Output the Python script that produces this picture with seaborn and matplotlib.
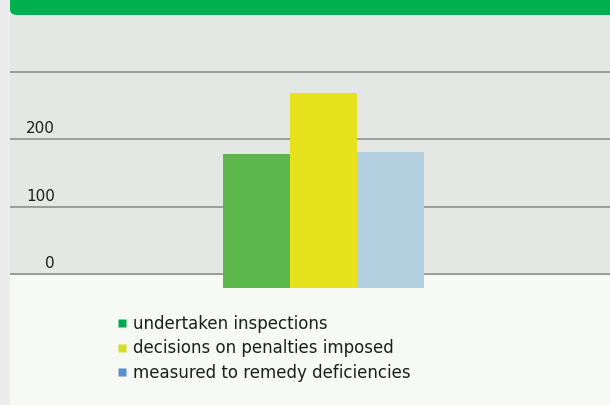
import matplotlib
matplotlib.use("Agg")
import matplotlib.pyplot as plt
import seaborn as sns
import pandas as pd
from matplotlib.lines import Line2D
from matplotlib.patches import FancyBboxPatch, Rectangle

# data
categories = ["undertaken inspections", "decisions on penalties imposed", "measured to remedy deficiencies"]
values = [178, 268, 181]
bar_colors = ["#5cb84a", "#e6e21e", "#b3d0e0"]
legend_colors = ["#00a84f", "#d6df1e", "#5b91cf"]
grid_values = [0, 100, 200, 300]
tick_labels = ["0", "100", "200", ""]

df = pd.DataFrame({"category": categories, "value": values})

sns.set_theme(style="white")
plt.rcParams['font.family'] = ['DejaVu Sans']

fig = plt.figure(figsize=(6.1, 4.05), dpi=100)
fig.patch.set_facecolor("white")

# left shadow strip
fig.patches.append(Rectangle((0, 0), 10 / 610, 1, transform=fig.transFigure,
                             facecolor="#ececec", edgecolor="none", zorder=0))

# axes covering the area below the green header
ax = fig.add_axes([10 / 610, 0, 600 / 610, 390 / 405])
ax.set_facecolor("#e3e8e5")

sns.barplot(data=df, x="category", y="value", hue="category", palette=bar_colors,
            width=1.0, dodge=False, legend=False, saturation=1, ax=ax, zorder=3)

# 3D-ish base: bars reach a little below the zero line
base_depth = 20
for p in ax.patches:
    p.set_y(-base_depth)
    p.set_height(p.get_height() + base_depth)
    p.set_edgecolor("none")

ax.set_xlim(-3.67, 5.28)
ax.set_ylim(-194, 384)

# floor
ax.axhspan(-194, -2, facecolor="#f6f9f4", edgecolor="none", zorder=1)

for g, lab in zip(grid_values, tick_labels):
    ax.axhline(g, color="#999d9a", lw=1.4, zorder=2)
    if lab:
        ax.text(0.075, g + 4, lab, transform=ax.get_yaxis_transform(),
                ha="right", va="bottom", fontsize=11, color="#1e1e1e", zorder=4)

ax.set_xticks([])
ax.set_yticks([])
ax.set_xlabel("")
ax.set_ylabel("")
for s in ax.spines.values():
    s.set_visible(False)

# green header band
fig.patches.append(FancyBboxPatch((10 / 610, 390 / 405), 620 / 610, 30 / 405,
                                  boxstyle="round,pad=0,rounding_size=0.012",
                                  transform=fig.transFigure, facecolor="#00b04f",
                                  edgecolor="none", zorder=5))

handles = [Line2D([0], [0], marker="s", color="none", markerfacecolor=c,
                  markeredgecolor="none", markersize=6) for c in legend_colors]
fig.legend(handles, categories, loc="upper left", bbox_to_anchor=(110 / 610, 1 - 308 / 405),
           frameon=False, fontsize=12, handlelength=0.6, handletextpad=0.4,
           labelspacing=0.4, labelcolor="#1e1e1e", borderaxespad=0)

fig.savefig("out.png", dpi=100, facecolor=fig.get_facecolor())
